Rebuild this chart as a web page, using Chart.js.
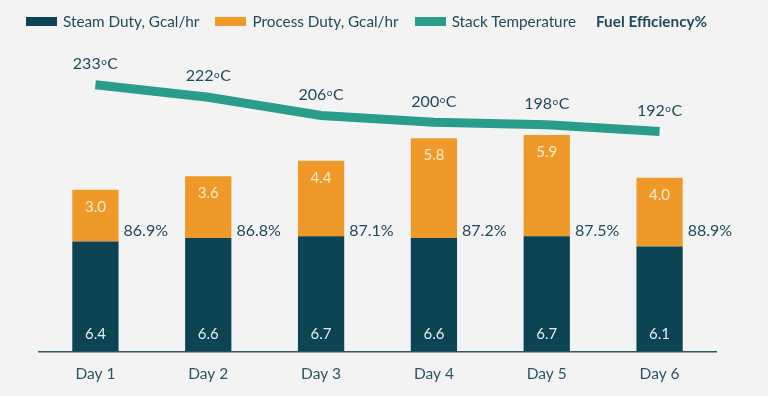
<!DOCTYPE html>
<html>
<head>
<meta charset="utf-8">
<script src="https://cdn.jsdelivr.net/npm/chart.js@4"></script>
<style>
  html, body { margin: 0; padding: 0; background: #f3f3f3; }
  #wrap { position: relative; width: 768px; height: 396px; }
  #legend { position: absolute; left: 26px; top: 12px; display: flex; align-items: center;
            font: 15.3px Lato, sans-serif; color: #1e4a5b; white-space: nowrap; }
  #legend .item { display: flex; align-items: center; margin-right: 16px; }
  #legend .box { width: 31px; height: 9px; margin-right: 6px; }
  #legend .bold { font-weight: bold; margin-left: 4px; }
</style>
</head>
<body>
<div id="wrap">
  <canvas id="chart" width="768" height="396"></canvas>
  <div id="legend"></div>
</div>
<script>
const days = ["Day 1", "Day 2", "Day 3", "Day 4", "Day 5", "Day 6"]
const steamDuty = [6.4, 6.6, 6.7, 6.6, 6.7, 6.1]
const processDuty = [3.0, 3.6, 4.4, 5.8, 5.9, 4.0]
const stackTemp = [233, 222, 206, 200, 198, 192]
const fuelEfficiency = [86.9, 86.8, 87.1, 87.2, 87.5, 88.9]

const darkTeal = "#0c4453"
const orange = "#ef9a28"
const green = "#2a9d8a"
const textColor = "#1e4a5b"

// draws "233oC" with a small raised o, centred on x
function drawTemp(ctx, value, x, y) {
    const big = "16px Lato", small = "10px Lato"
    ctx.font = big
    const w1 = ctx.measureText(String(value)).width
    const w3 = ctx.measureText("C").width
    ctx.font = small
    const w2 = ctx.measureText("o").width + 1
    let left = x - (w1 + w2 + w3) / 2
    ctx.textAlign = "left"
    ctx.textBaseline = "middle"
    ctx.font = big
    ctx.fillText(String(value), left, y)
    ctx.font = small
    ctx.fillText("o", left + w1 + 0.5, y - 2)
    ctx.font = big
    ctx.fillText("C", left + w1 + w2, y)
}

const labelPlugin = {
    id: "valueLabels",
    afterDatasetsDraw(chart) {
        const ctx = chart.ctx
        const steamMeta = chart.getDatasetMeta(0)
        const procMeta = chart.getDatasetMeta(1)
        const tempMeta = chart.getDatasetMeta(2)
        const yScale = chart.scales.y
        ctx.save()
        ctx.textAlign = "center"
        ctx.textBaseline = "middle"
        ctx.font = "15px Lato"
        steamMeta.data.forEach((bar, i) => {
            ctx.fillStyle = "#e4ecee"
            ctx.fillText(steamDuty[i].toFixed(1), bar.x, bar.base - 17)
        })
        procMeta.data.forEach((bar, i) => {
            ctx.fillStyle = "#fdebd0"
            ctx.fillText(processDuty[i].toFixed(1), bar.x, bar.y + 17)
        })
        // efficiency sits beside each bar at one common height
        ctx.textAlign = "left"
        ctx.font = "16px Lato"
        ctx.fillStyle = textColor
        procMeta.data.forEach((bar, i) => {
            ctx.fillText(fuelEfficiency[i].toFixed(1) + "%", bar.x + bar.width / 2 + 5, yScale.getPixelForValue(7.0))
        })
        ctx.fillStyle = textColor
        tempMeta.data.forEach((pt, i) => drawTemp(ctx, stackTemp[i], pt.x, pt.y - 21))
        ctx.restore()
    }
}

const chart = new Chart(document.getElementById("chart").getContext("2d"), {
    type: "bar",
    data: {
        labels: days,
        datasets: [
            { label: "Steam Duty, Gcal/hr", data: steamDuty, backgroundColor: darkTeal, stack: "duty", yAxisID: "y", order: 2 },
            { label: "Process Duty, Gcal/hr", data: processDuty, backgroundColor: orange, stack: "duty", yAxisID: "y", order: 2 },
            { label: "Stack Temperature", data: stackTemp, type: "line", borderColor: green, backgroundColor: green,
              borderWidth: 9, pointRadius: 0, tension: 0, yAxisID: "y2", order: 1 }
        ]
    },
    options: {
        responsive: false,
        animation: false,
        layout: { padding: { left: 39, right: 52, top: 50, bottom: 0 } },
        datasets: { bar: { categoryPercentage: 1, barPercentage: 0.41 } },
        plugins: { legend: { display: false }, tooltip: { enabled: false } },
        scales: {
            x: {
                stacked: true,
                grid: { display: false, drawTicks: false },
                border: { display: true, color: "#2f5a6a", width: 1.5 },
                ticks: { color: "#2b5465", font: { family: "Lato", size: 15.5 }, padding: 13 }
            },
            y: { stacked: true, display: false, min: 0, max: 17.54 },
            y2: { display: false, min: -1, max: 263.5 }
        }
    },
    plugins: [labelPlugin]
})

// html legend, so the last entry can be bold without a swatch
const legend = document.getElementById("legend")
chart.data.datasets.forEach(ds => {
    const item = document.createElement("div")
    item.className = "item"
    item.innerHTML = "<span class='box' style='background:" + (ds.type === "line" ? ds.borderColor : ds.backgroundColor) + "'></span>" + ds.label
    legend.appendChild(item)
})
const eff = document.createElement("div")
eff.className = "bold"
eff.textContent = "Fuel Efficiency%"
legend.appendChild(eff)
</script>
</body>
</html>
